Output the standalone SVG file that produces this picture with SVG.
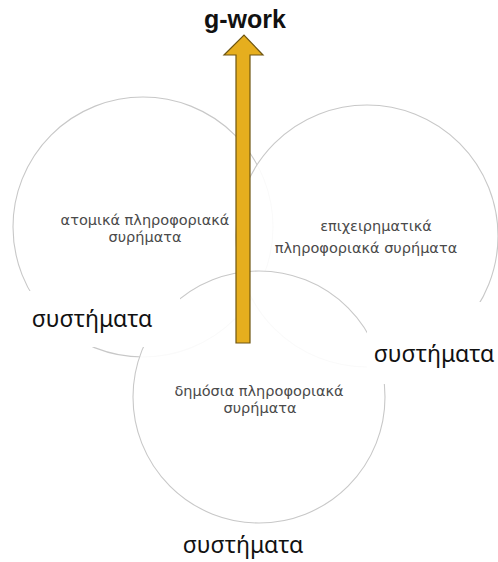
<svg xmlns="http://www.w3.org/2000/svg" width="498" height="562" viewBox="0 0 498 562">
<style>
.circ{fill:#fff;fill-opacity:0.9;stroke:#c8c8c8;stroke-width:1.1}
.lbl{font-family:"DejaVu Sans","Liberation Sans",sans-serif;font-size:14.5px;fill:#4a4a4a;text-anchor:middle}
.big{font-family:"Noto Sans","Open Sans",sans-serif;font-size:23px;fill:#111;text-anchor:middle}
.mask{fill:#fff}
</style>
<rect width="498" height="562" fill="#fff"/>
<g id="circle-left"><circle class="circ" cx="143" cy="227" r="130"/></g>
<g id="circle-right"><circle class="circ" cx="367" cy="236" r="131"/></g>
<g id="circle-bottom"><circle class="circ" cx="259" cy="397" r="126"/></g>
<g id="masks">
<rect class="mask" x="20" y="291" width="160" height="56"/>
<rect class="mask" x="367" y="302" width="131" height="82"/>
</g>
<g id="arrow">
<path d="M236,343 L236,55 L224,55 L244,35 L263,55 L250,55 L250,343 Z" fill="#E6AE1E" stroke="#6e5512" stroke-width="1.2" stroke-linejoin="miter"/>
</g>
<g id="title"><text x="245" y="28" font-family="Liberation Sans,Arial,sans-serif" font-size="25" font-weight="bold" fill="#111" text-anchor="middle">g-work</text></g>
<g id="label-left">
<text class="lbl" x="145" y="225">ατομικά πληροφοριακά</text>
<text class="lbl" x="145" y="242">συρήματα</text>
<text class="big" x="92" y="327">συστήματα</text>
</g>
<g id="label-right">
<text class="lbl" x="376" y="231">επιχειρηματικά</text>
<text class="lbl" x="366" y="253">πληροφοριακά συρήματα</text>
<text class="big" x="434" y="362">συστήματα</text>
</g>
<g id="label-bottom">
<text class="lbl" x="259" y="396">δημόσια πληροφοριακά</text>
<text class="lbl" x="260" y="413">συρήματα</text>
<text class="big" x="243" y="553">συστήματα</text>
</g>
</svg>
